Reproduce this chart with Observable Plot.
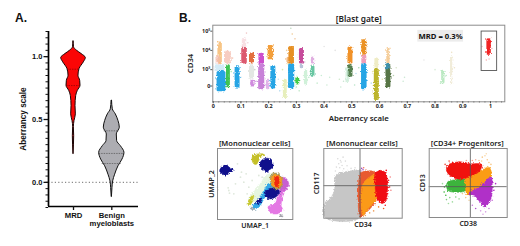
<!DOCTYPE html>
<html><head><meta charset="utf-8">
<script src="https://cdn.jsdelivr.net/npm/d3@7"></script>
<script src="https://cdn.jsdelivr.net/npm/@observablehq/plot@0.6"></script>
<style>
html,body{margin:0;padding:0;background:#fff}
#root{position:relative;width:520px;height:246px;overflow:hidden;background:#fff}
#root svg.cloud,#root svg.plain{position:absolute;background:transparent;overflow:visible}
.tag{position:absolute;font:bold 12px "Liberation Sans",sans-serif;color:#111}
.cloud g[aria-label="line"]{filter:url(#grain)}
.cloud g[aria-label="dot"]{filter:blur(.3px)}
</style></head><body>
<svg width="0" height="0" style="position:absolute"><defs>
<filter id="grain" x="-25%" y="-25%" width="150%" height="150%" color-interpolation-filters="sRGB">
<feTurbulence type="fractalNoise" baseFrequency="0.6" numOctaves="2" seed="3" result="n"/>
<feDisplacementMap in="SourceGraphic" in2="n" scale="3.6" xChannelSelector="R" yChannelSelector="G" result="d"/>
<feGaussianBlur in="d" stdDeviation="0.45"/>
</filter></defs></svg>
<div id="root"></div>
<script>
// ---------- Panel A: violins ----------
const groups = ["MRD", "Benign\nmyeloblasts"];
const mrdLevel = [1.12,1.075,1.048,1.021,0.989,0.955,0.901,0.848,0.808,0.768,0.728,0.688,0.608,0.541,0.488,0.44,0.368,0.30,0.224];
const mrdHalf  = [0.004,0.013,0.087,0.21,0.322,0.27,0.157,0.13,0.174,0.183,0.113,0.07,0.052,0.061,0.026,0.009,0.017,0.012,0.002];
const benLevel = [0.648,0.581,0.541,0.488,0.435,0.381,0.328,0.288,0.235,0.181,0.128,0.061,0.008,-0.045,-0.117];
const benHalf  = [0.006,0.026,0.104,0.174,0.209,0.13,0.139,0.235,0.33,0.278,0.174,0.087,0.035,0.017,0.003];
const mrdQuartiles = [0.90, 0.77];
const benQuartiles = [0.41, 0.23, 0.15];
const mrdQuartileHalf = [0.157, 0.183];
const benQuartileHalf = [0.2, 0.33, 0.25];
// ---------- Panel B: aberrancy scale vs CD34, clusters ----------
const stripX    = [0.025,0.018,0.025,0.03,0.055,0.053,0.088,0.113,0.113,0.14,0.14,0.143,0.175,0.175,0.198,0.208,0.217,0.26,0.272,0.283,0.283,0.305,0.32,0.32,0.335,0.36,0.36,0.495,0.495,0.485,0.545,0.545,0.545,0.59,0.59,0.632,0.632,0.63,0.83,0.86,0.995];
const stripHalf = [0.008,0.008,0.018,0.016,0.007,0.012,0.009,0.010,0.008,0.009,0.009,0.008,0.010,0.011,0.006,0.010,0.009,0.007,0.006,0.010,0.011,0.007,0.009,0.006,0.006,0.006,0.007,0.009,0.009,0.006,0.009,0.009,0.010,0.009,0.007,0.006,0.009,0.009,0.006,0.004,0.008];
const stripLow  = [3.31,3.3,2.9,1.85,2.05,3.3,2.05,3.3,4.1,3.3,2.5,2.1,3.3,1.95,1.95,3.52,2.0,1.5,3.3,3.3,2.0,2.2,3.3,3.05,2.2,3.3,2.6,3.3,2.6,2.3,3.75,3.3,1.95,1.4,3.05,3.3,2.05,3.0,2.25,2.2,3.75];
const stripHigh = [4.44,3.7,3.25,2.9,3.25,3.95,3.15,4.1,4.6,3.87,3.25,2.45,3.85,3.3,2.5,4.25,3.2,2.5,3.65,4.2,3.3,2.6,4.1,3.3,3.0,3.66,3.2,4.18,3.25,3.1,4.55,3.75,3.3,3.05,3.6,4.15,3.3,3.3,2.97,3.7,4.61];
const stripColor= ["#f5b565","#f4bcb0","#a8d8f0","#1aa0e4","#35c04a","#f4b8a8","#1aa0e4","#d84860","#f2c0c8","#e0602a","#c8d0c8","#c878d8","#c83cc8","#c57ad6","#d8a0e4","#f29a30","#1aa0e4","#dde8a0","#f0a860","#e58a18","#1aa0e4","#38c840","#c03890","#9aa8c8","#b0e8c0","#d89ad8","#58c098","#f08c1c","#4e7a48","#b8e4c8","#ea8c18","#ec94b0","#1aa0e4","#b8b020","#e4e0a0","#f2c080","#4e6e3c","#3a9ac8","#9ee0a8","#e8dfc0","#f01818"];
const stripAlpha= [.8,.7,.5,.95,.95,.7,.95,.9,.5,.9,.5,.85,.9,.95,.8,.95,.95,.7,.8,.95,.95,.95,.9,.7,.6,.8,.9,.95,.95,.6,.95,.9,.95,.95,.6,.8,.95,.8,.7,.6,.95];
const fringeX = [0.012,0.04,0.065,0.07,0.10,0.105,0.12,0.125,0.15,0.155,0.165,0.19,0.235,0.24,0.25,0.265,0.27,0.28,0.285,0.295,0.30,0.31,0.33,0.345,0.35,0.375,0.39,0.40,0.41,0.42,0.44,0.455,0.46,0.47,0.51,0.515,0.525,0.57,0.575,0.61,0.615,0.65,0.66,0.685,0.69,0.76,0.80,0.82,0.84,0.86,0.87,0.97,0.985,1.005,0.995];
const fringeY = [2.5,2.0,2.9,3.6,2.6,4.2,4.9,4.4,3.0,2.4,2.8,2.2,2.5,1.9,3.0,4.0,3.3,5.15,4.85,4.6,2.1,1.9,3.4,2.6,2.9,2.3,2.7,4.2,2.2,2.6,4.0,2.5,2.1,2.4,2.2,2.8,3.1,2.3,2.9,2.5,3.2,2.7,3.1,2.4,2.6,3.5,3.0,2.3,2.7,3.9,3.1,4.2,3.5,4.1,3.55];
const fringeC = ["#b8dcf0","#b8dcf0","#b0e8b8","#f4c8b8","#c8e4f4","#f2c8d0","#f0c8c8","#f2d0d8","#ccd4cc","#d8b8e8","#ddc8ec","#ddc8ec","#c8e4f4","#b8dcf0","#d8e8b0","#f0d0a0","#e4ecb0","#c0d8c0","#f0c890","#f0c8a0","#b8e8c0","#c0e8c8","#d8c0d8","#c0ecd0","#b0e8c0","#c8ecd0","#c8ecd4","#e4e4e4","#d0ecd8","#d0ecd8","#e4e4e4","#cce8c8","#d0ecd8","#c8e4d0","#b8e4c8","#bce0f0","#a8d8b0","#c0e0f4","#e8e4a8","#e8e4a8","#ece8b0","#b8d0b0","#d8e4c8","#cce8d4","#cce8d4","#e8e8e8","#d8ecd8","#bce8c4","#bce8c4","#eee4c8","#eee4c8","#f8c8c8","#f8b0b0","#f8b8b8","#f4c0c4"];
const gate = {x1: 0.968, x2: 1.024, y1: 2.93, y2: 4.98};
const xTicksB = [0,0.1,0.2,0.3,0.4,0.5,0.6,0.7,0.8,0.9,1];
const yTicksB = [2.15,3,4,5];
const yTickLabelsB = ["0","10³","10⁴","10⁵"];
// ---------- Panel C: UMAP populations ----------
const umapNames = ["navyLeft","olive","navyTop","halo","violet","pink","cyan","navyMid","navySmall","yellow","grayA","grayB","tan","orange","red"];
const umapColors = ["#10108c","#c4bf28","#10108c","#e6f6e0","#c860d0","#e478e4","#34a8e6","#10108c","#10108c","#c8c830","#a0a0a8","#9aa8b0","#a89858","#f59a20","#f02810"];
const umapShapes = [
 [[14,85],[24,76],[36,74],[42,82],[53,87],[50,94],[38,98],[30,104],[20,100],[13,94]],
 [[110,50],[122,41],[140,40],[148,44],[135,48],[130,60],[122,72],[113,68]],
 [[133,68],[145,55],[160,54],[172,66],[171,80],[160,90],[155,96],[143,88],[135,80]],
 [[150,105],[170,100],[172,130],[150,160],[125,180],[95,190],[105,165],[135,130]],
 [[195,112],[210,112],[220,130],[215,145],[205,155],[194,160],[192,150],[198,130]],
 [[205,150],[197,195],[202,208],[190,218],[172,220],[160,210],[158,198],[178,190],[188,165]],
 [[160,128],[172,135],[160,150],[148,170],[130,200],[115,205],[110,200],[128,178],[145,150]],
 [[150,152],[165,143],[185,143],[192,155],[180,170],[160,175],[148,165]],
 [[120,188],[135,172],[140,176],[128,190]],
 [[95,192],[110,165],[115,165],[103,195]],
 [[194,224],[200,222],[202,230],[196,232]],
 [[104,200],[112,202],[118,206],[106,206]],
 [[165,105],[175,98],[190,100],[198,112],[198,140],[188,146],[172,142]],
 [[168,108],[178,102],[196,112],[196,136],[186,142],[172,138]],
 [[178,110],[188,108],[191,122],[188,138],[180,138]]
];
const umapDotX = [40,42,38,6,7,75,85,92,100,110,120,66,130,140,95,60,78,55,150,165];
const umapDotY = [150,158,142,140,148,110,125,100,140,120,150,70,105,110,160,130,95,160,125,112];
// ---------- Panel D: CD117 vs CD34 ----------
const dNames = ["gray","orangeRed","orange","red"];
const dColors = ["#c6c6c6","#e85a30","#fb9a18","#f00c14"];
const dShapes = [
 [[14,232],[14,190],[30,175],[42,150],[45,105],[70,95],[100,90],[120,90],[120,232]],
 [[120,100],[135,92],[165,96],[170,175],[150,205],[132,222],[120,232]],
 [[126,135],[145,112],[168,102],[172,170],[148,200],[128,225]],
 [[165,98],[180,90],[195,96],[202,130],[197,180],[185,190],[170,172],[164,130]]
];
const dDotX = [52,60,55,65,48,70,62,58,75,45,80,68,205,208,202,200,195,190,212,186,175,160,148,135,128,124,122,130,210,198,92,104,36,28];
const dDotY = [55,60,70,75,80,85,65,82,62,92,76,50,120,140,160,175,195,205,150,178,200,212,218,226,88,84,92,82,110,90,84,82,165,172];
const dDotC = ["#dcdcdc","#dcdcdc","#dcdcdc","#dcdcdc","#dcdcdc","#dcdcdc","#dcdcdc","#dcdcdc","#dcdcdc","#dcdcdc","#dcdcdc","#dcdcdc","#f01020","#f01020","#f01020","#f01020","#f01020","#f06020","#f48080","#f01020","#f08030","#f0a060","#f0a060","#f0a060","#a050c0","#a050c0","#c070d0","#f07060","#f48080","#f01020","#dcdcdc","#dcdcdc","#d4d4d4","#d4d4d4"];
// ---------- Panel E: CD13 vs CD38 ----------
const eNames = ["green","orange","purple","red"];
const eColors = ["#3cb43c","#fb9c14","#b030c8","#f0120e"];
const eShapes = [
 [[65,125],[90,118],[118,118],[120,150],[95,156],[66,150]],
 [[118,100],[165,90],[190,80],[197,108],[152,146],[126,166],[118,130]],
 [[196,110],[200,140],[196,176],[176,200],[152,172],[130,160],[160,140]],
 [[64,76],[100,64],[135,70],[168,72],[162,92],[130,110],[95,116],[64,96]]
];
const eDotX = [160,170,178,185,190,196,168,182,60,55,62,72,80,90,56,68,50,100,110,120,130,140,150,205,200,210,180,165,190,172,58,70,140,150,122];
const eDotY = [60,50,46,58,66,72,62,40,165,155,178,172,185,170,140,190,130,176,160,172,180,195,205,150,180,130,215,212,205,222,72,62,60,58,60];
const eDotC = ["#f8c888","#f8c888","#f8d4a0","#f8c888","#f8c888","#f8c888","#f8d4a0","#f8dcb0","#3cb43c","#3cb43c","#80d080","#80d080","#a0dca0","#80d080","#3cb43c","#a0dca0","#a0dca0","#a0dca0","#f0c890","#f0c890","#f0d0a0","#c878d8","#b050c8","#b030c8","#c878d8","#b030c8","#d8a0e4","#d8a0e4","#c878d8","#d8a0e4","#f05040","#f05040","#f8a090","#f8b0a0","#f8a090"];

const sans = '"Liberation Sans", Arial, sans-serif';
const humanist = '"Noto Sans", "Open Sans", sans-serif';
const root = document.getElementById("root");
function place(plot, left, top) { plot.style.left = left + "px"; plot.style.top = top + "px"; root.append(plot); return plot; }
function tag(text, left, top) { const d = document.createElement("div"); d.className = "tag"; d.textContent = text; d.style.left = left + "px"; d.style.top = top + "px"; root.append(d); }
const toRows = (ys, hs) => ys.map((y, i) => ({y, h: hs[i]}));

// Panel A
const xA = [0.347, 2.697];
const yA = [-0.192, 1.2];
place(Plot.plot({
  className: "plain",
  width: 175, height: 246, marginLeft: 48, marginRight: 37, marginTop: 31, marginBottom: 40,
  x: {domain: xA, axis: null}, y: {domain: yA, axis: null},
  style: {fontFamily: sans, fontWeight: "bold", color: "#111", background: "transparent"},
  marks: [
    Plot.ruleY([0], {stroke: "#8a8a8a", strokeWidth: 1.1, strokeDasharray: "1.2,2.2"}),
    Plot.areaX(toRows(mrdLevel, mrdHalf), {y: "y", x1: d => 1 - d.h, x2: d => 1 + d.h, fill: "#fa0606", stroke: "#1a0505", strokeWidth: 1, curve: "monotone-y"}),
    Plot.areaX(toRows(benLevel, benHalf), {y: "y", x1: d => 2 - d.h, x2: d => 2 + d.h, fill: "#adadb2", stroke: "#111", strokeWidth: 1, curve: "monotone-y"}),
    Plot.ruleY(toRows(mrdQuartiles, mrdQuartileHalf), {y: "y", x1: d => 1 - d.h, x2: d => 1 + d.h, stroke: "#700", strokeWidth: .6, strokeDasharray: "1.5,1"}),
    Plot.ruleY(toRows(benQuartiles, benQuartileHalf), {y: "y", x1: d => 2 - d.h, x2: d => 2 + d.h, stroke: "#444", strokeWidth: .6, strokeDasharray: "1.5,1"}),
    Plot.ruleX([xA[0]], {stroke: "#000", strokeWidth: 1.7}),
    Plot.ruleY([yA[0]], {stroke: "#000", strokeWidth: 1.7}),
    Plot.axisY({ticks: d3.range(-0.2, 1.21, 0.05), tickSize: 2.5, strokeWidth: 1, tickFormat: () => "", label: null}),
    Plot.axisY({ticks: [0, 0.5, 1], tickSize: 4.5, strokeWidth: 1.3, tickPadding: 1.5, fontSize: 7.5, tickFormat: d => d.toFixed(1), label: null}),
    Plot.axisX({ticks: [1, 2], tickSize: 4, strokeWidth: 1.3, tickPadding: 2, fontSize: 7.7, tickFormat: d => groups[d - 1], label: null}),
    Plot.text(["Aberrancy scale"], {frameAnchor: "left", textAnchor: "middle", rotate: -90, dx: -25, fontSize: 8.2, fontWeight: "bold"})
  ]
}), 0, 0);
tag("A.", 15, 11);

// Panel B
const strips = stripX.map((x, i) => ({x, h: stripHalf[i], lo: stripLow[i], hi: stripHigh[i], c: stripColor[i], a: stripAlpha[i]}));
const fringe = fringeX.map((x, i) => ({x, y: fringeY[i], c: fringeC[i]}));
const panelB = place(Plot.plot({
  className: "cloud",
  width: 345, height: 125, marginLeft: 37.3, marginRight: 15.7, marginTop: 24.7, marginBottom: 23.7,
  x: {domain: [-0.0014, 1.0516], axis: null}, y: {domain: [1.33, 5.31], axis: null},
  style: {fontFamily: humanist, color: "#222", background: "transparent"},
  marks: [
    Plot.dot(fringe, {x: "x", y: "y", r: 0.8, fill: "c"}),
    Plot.rect(strips, {x1: d => d.x - d.h, x2: d => d.x + d.h, y1: "lo", y2: "hi", fill: "c", fillOpacity: "a", rx: 1.5}),
    Plot.rect([gate], {x1: "x1", x2: "x2", y1: "y1", y2: "y2", fill: "none", stroke: "#555", strokeWidth: 0.9}),
    Plot.rect([{x1: 0.738, x2: 0.903, y1: 4.43, y2: 5.04}], {x1: "x1", x2: "x2", y1: "y1", y2: "y2", fill: "#ececec"}),
    Plot.frame({stroke: "#8c8c8c", strokeWidth: 1}),
    Plot.axisX({ticks: d3.range(0, 1.05, 0.02), tickSize: 1.2, stroke: "#777", tickFormat: () => "", label: null}),
    Plot.axisX({ticks: xTicksB, tickSize: 2, tickPadding: 0.5, stroke: "#555", fontSize: 5.4, fontWeight: "bold", tickFormat: d => String(d), label: null}),
    Plot.axisY({ticks: yTicksB, tickSize: 2, tickPadding: 0.5, stroke: "#555", fontSize: 5.4, fontWeight: "bold", tickFormat: d => yTickLabelsB[yTicksB.indexOf(d)], label: null}),
    Plot.text(["MRD = 0.3%"], {x: 0.82, y: 4.73, fontSize: 7.7, fontWeight: 700, fill: "#111"}),
    Plot.text(["[Blast gate]"], {frameAnchor: "top", lineAnchor: "middle", dy: -5.7, fontSize: 8.3, fontWeight: 600}),
    Plot.text(["Aberrancy scale"], {frameAnchor: "bottom", lineAnchor: "middle", dy: 16.5, fontSize: 7.8, fontWeight: 600}),
    Plot.text(["CD34"], {frameAnchor: "left", textAnchor: "middle", rotate: -90, dx: -22, fontSize: 7.8, fontWeight: 600})
  ]
}), 175, 0);
panelB.querySelector('g[aria-label="rect"]').style.filter = "url(#grain)";
tag("B.", 179, 11);

function blobs(shapes, colors, names) {
  return shapes.map((pts, i) => Plot.line(pts, {x: d => d[0], y: d => d[1], fill: colors[i], stroke: colors[i], strokeWidth: 0.5, curve: "catmull-rom-closed", title: () => names[i]}));
}
function labels(title, xl, yl, dxT, dyX, dxY) {
  return [
    Plot.text([title], {frameAnchor: "top", lineAnchor: "middle", dx: dxT, dy: -5.2, fontSize: 7.5, fontWeight: 600}),
    Plot.text([xl], {frameAnchor: "bottom", lineAnchor: "middle", dy: dyX, fontSize: 7, fontWeight: 600}),
    Plot.text([yl], {frameAnchor: "left", textAnchor: "middle", rotate: -90, dx: dxY, fontSize: 7, fontWeight: 600})
  ];
}
const smallStyle = {fontFamily: humanist, color: "#222", background: "transparent"};

// Panel C
place(Plot.plot({
  className: "cloud",
  width: 105, height: 105, marginLeft: 22, marginRight: 7.7, marginTop: 18, marginBottom: 16,
  x: {domain: [6, 232], axis: null}, y: {domain: [237, 24], axis: null}, style: smallStyle,
  marks: [
    Plot.dot(umapDotX.map((x, i) => [x, umapDotY[i]]), {x: d => d[0], y: d => d[1], r: 0.9, fill: "#dfe8dc"}),
    ...blobs(umapShapes, umapColors, umapNames),
    Plot.frame({stroke: "#8a8a8a", strokeWidth: 1}),
    ...labels("[Mononuclear cells]", "UMAP_1", "UMAP_2", -0.5, 6.3, -6)
  ]
}), 195, 130);

// Panel D
place(Plot.plot({
  className: "cloud",
  width: 105, height: 105, marginLeft: 18.3, marginRight: 8.3, marginTop: 18, marginBottom: 17.3,
  x: {domain: [10, 246], axis: null}, y: {domain: [234, 24], axis: null}, style: smallStyle,
  marks: [
    Plot.dot(dDotX.map((x, i) => ({x, y: dDotY[i], c: dDotC[i]})), {x: "x", y: "y", r: 0.8, fill: "c"}),
    ...blobs(dShapes, dColors, dNames),
    Plot.ruleX([119], {stroke: "#555", strokeWidth: 0.8}),
    Plot.ruleY([136], {stroke: "#555", strokeWidth: 0.8}),
    Plot.frame({stroke: "#8a8a8a", strokeWidth: 1}),
    ...labels("[Mononuclear cells]", "CD34", "CD117", -1, 6.3, -6.6)
  ]
}), 305, 130);

// Panel E
place(Plot.plot({
  className: "cloud",
  width: 105, height: 105, marginLeft: 18.7, marginRight: 8.3, marginTop: 18, marginBottom: 18,
  x: {domain: [10, 245], axis: null}, y: {domain: [232, 24], axis: null}, style: smallStyle,
  marks: [
    Plot.dot(eDotX.map((x, i) => ({x, y: eDotY[i], c: eDotC[i]})), {x: "x", y: "y", r: 0.8, fill: "c"}),
    ...blobs(eShapes, eColors, eNames),
    Plot.ruleX([134], {stroke: "#555", strokeWidth: 0.8}),
    Plot.ruleY([139], {stroke: "#555", strokeWidth: 0.8}),
    Plot.frame({stroke: "#8a8a8a", strokeWidth: 1}),
    ...labels("[CD34+ Progenitors]", "CD38", "CD13", -1, 6, -6.4)
  ]
}), 410, 130);
</script></body></html>
